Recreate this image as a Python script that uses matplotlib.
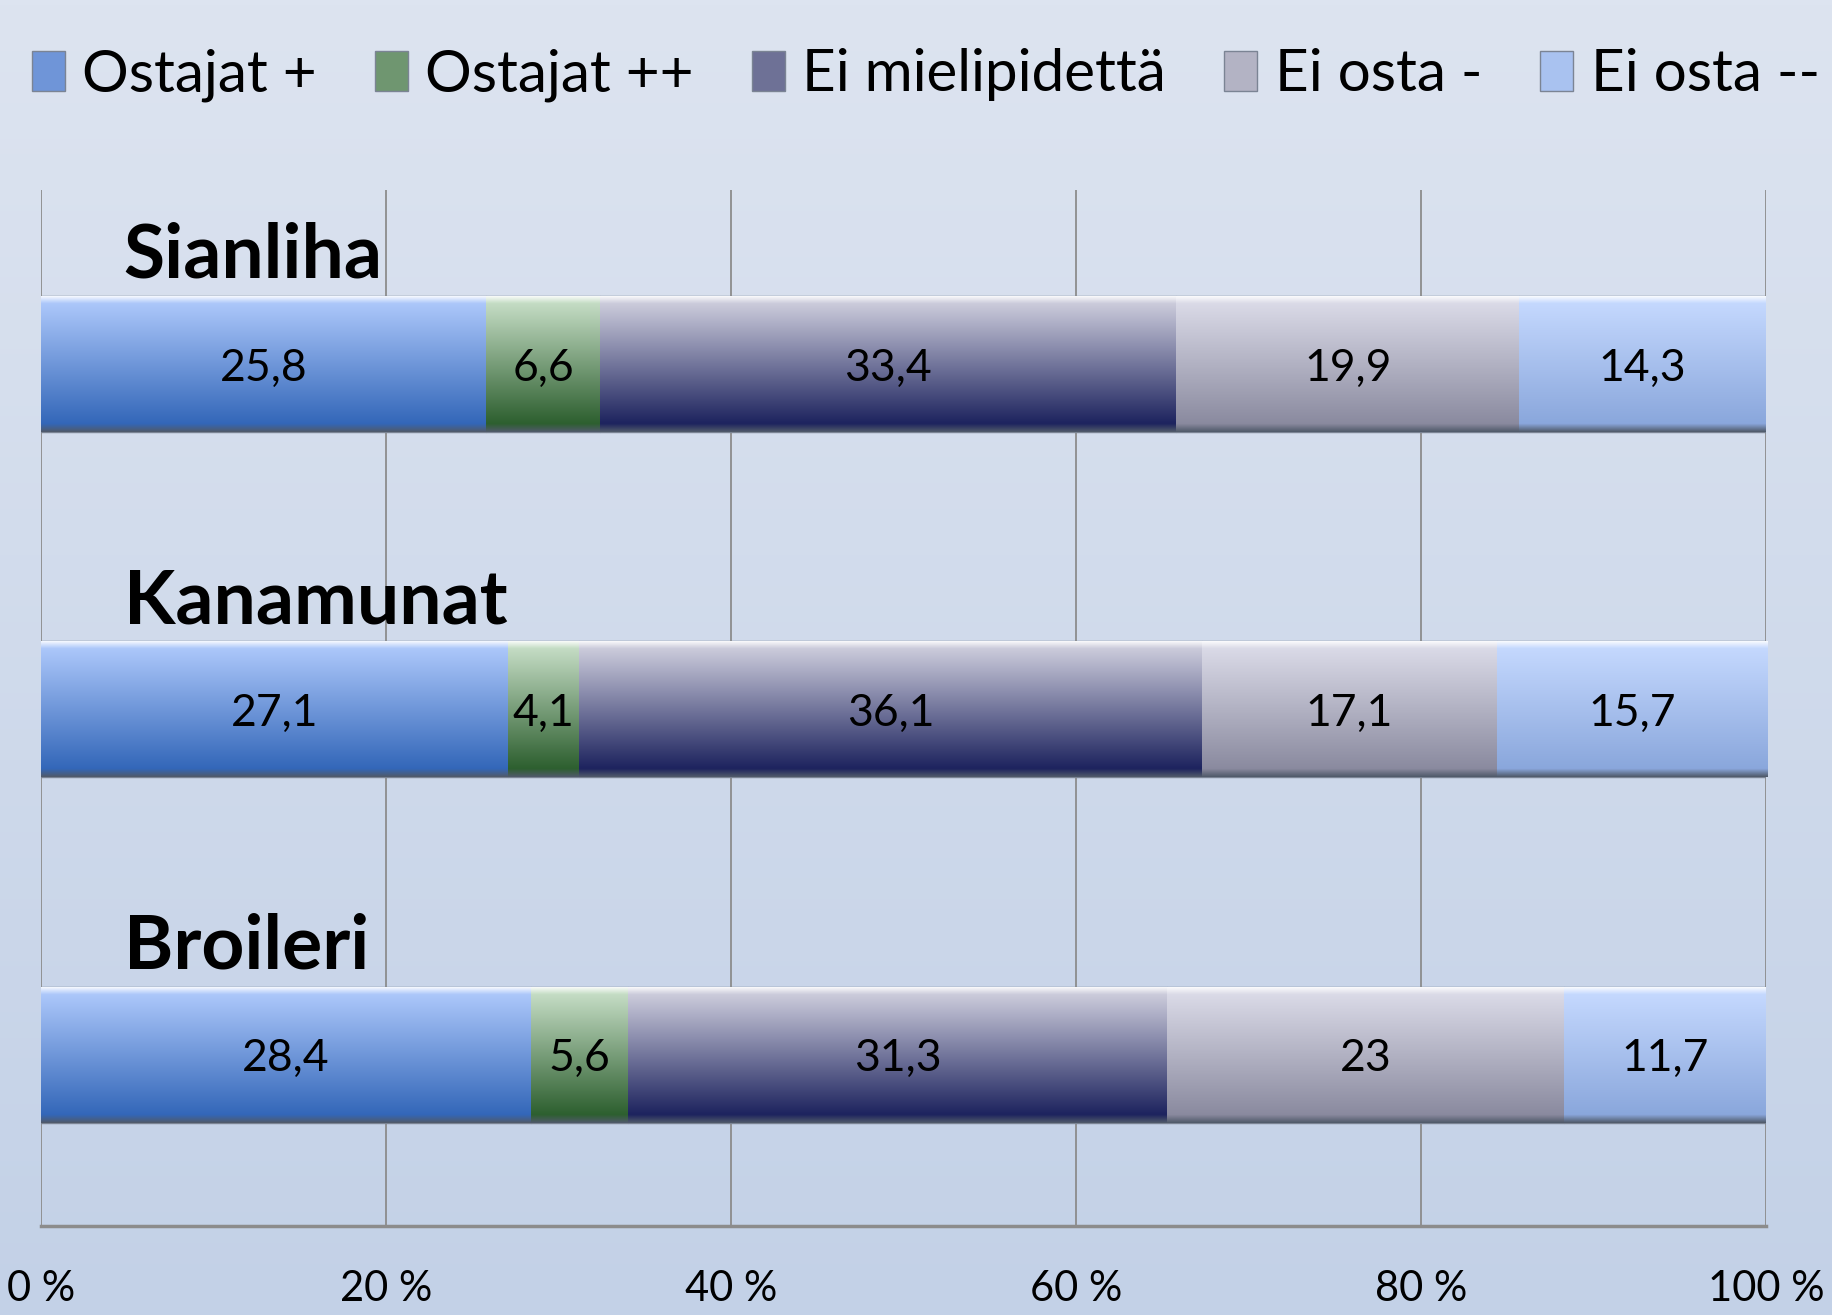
import matplotlib.pyplot as plt
import numpy as np
from matplotlib.colors import LinearSegmentedColormap

plt.rcParams["font.family"] = ["Lato", "DejaVu Sans"]

categories = ["Sianliha", "Kanamunat", "Broileri"]
series = ["Ostajat +", "Ostajat ++", "Ei mielipidettä", "Ei osta -", "Ei osta --"]
ostajat_plus = [25.8, 27.1, 28.4]
ostajat_plusplus = [6.6, 4.1, 5.6]
ei_mielipidetta = [33.4, 36.1, 31.3]
ei_osta = [19.9, 17.1, 23.0]
ei_osta_2 = [14.3, 15.7, 11.7]
xticks = [0, 20, 40, 60, 80, 100]
xtick_labels = ["0 %", "20 %", "40 %", "60 %", "80 %", "100 %"]

values = [ostajat_plus, ostajat_plusplus, ei_mielipidetta, ei_osta, ei_osta_2]
# (top, bottom, legend) colours for the glossy bars
shades = [
    ("#acc7fa", "#3367b9", "#6f95d8"),
    ("#c4dcc4", "#2d5f2f", "#6f9670"),
    ("#cbcbdb", "#1d235e", "#6e7196"),
    ("#dadae7", "#8a8a9f", "#b3b3c4"),
    ("#c4d8fe", "#8aa7dc", "#a9c2f0"),
]

fig = plt.figure(figsize=(18.32, 13.15), dpi=100)

# soft blue-grey page background
bg = fig.add_axes([0, 0, 1, 1], zorder=-10)
grad = np.linspace(0, 1, 256).reshape(-1, 1)
bg.imshow(grad, aspect="auto", extent=[0, 1, 0, 1],
          cmap=LinearSegmentedColormap.from_list("bg", ["#dde4f0", "#c3d1e7"]))
bg.set_axis_off()

ax = fig.add_axes([41 / 1832, 1 - 1226 / 1315, 1725 / 1832, 1036 / 1315])
ax.set_facecolor("none")

y = np.arange(len(categories))
left = np.zeros(len(categories))
bar_h = 0.394
for name, vals, (top, bot, mid) in zip(series, values, shades):
    bars = ax.barh(y, vals, left=left, height=bar_h, color=mid,
                   edgecolor="#7b8494", linewidth=1.0, label=name, zorder=3)
    cmap = LinearSegmentedColormap.from_list(
        name, [(0, "#ffffff"), (0.06, top), (0.94, bot), (1, "#505a6a")])
    for p in bars:
        x0, y0 = p.get_x(), p.get_y()
        im = ax.imshow(grad, aspect="auto", cmap=cmap, zorder=3.5,
                       extent=[x0, x0 + p.get_width(), y0 + p.get_height(), y0])
        im.set_clip_path(p)
    for xc, yc, v in zip(left + np.array(vals) / 2, y, vals):
        ax.text(xc, yc + 0.012, f"{v:g}".replace(".", ","), fontsize=32,
                ha="center", va="center", zorder=5)
    left += np.array(vals)

for i, cat in enumerate(categories):
    ax.text(4.8, i - 0.25, cat, fontsize=54, fontweight="bold", va="baseline",
            ha="left", zorder=2)

ax.set_xlim(0, 100)
ax.set_ylim(2.496, -0.504)
ax.set_yticks([])
ax.set_xticks(xticks)
ax.set_xticklabels(xtick_labels, fontsize=30)
ax.tick_params(axis="x", length=0, pad=32)
ax.grid(axis="x", color="#8c8c8c", linewidth=1.3, zorder=1)
ax.set_axisbelow(True)
for s in ["top", "right", "left"]:
    ax.spines[s].set_visible(False)
ax.spines["bottom"].set_color("#8c8c8c")
ax.spines["bottom"].set_linewidth(2.5)

fig.legend(loc="center left", bbox_to_anchor=(0.0175, 0.9428), ncol=5,
           frameon=False, fontsize=42, borderpad=0, borderaxespad=0,
           handlelength=0.56, handleheight=0.67, handletextpad=0.3,
           columnspacing=1.0)

fig.savefig("out.png", dpi=100)
